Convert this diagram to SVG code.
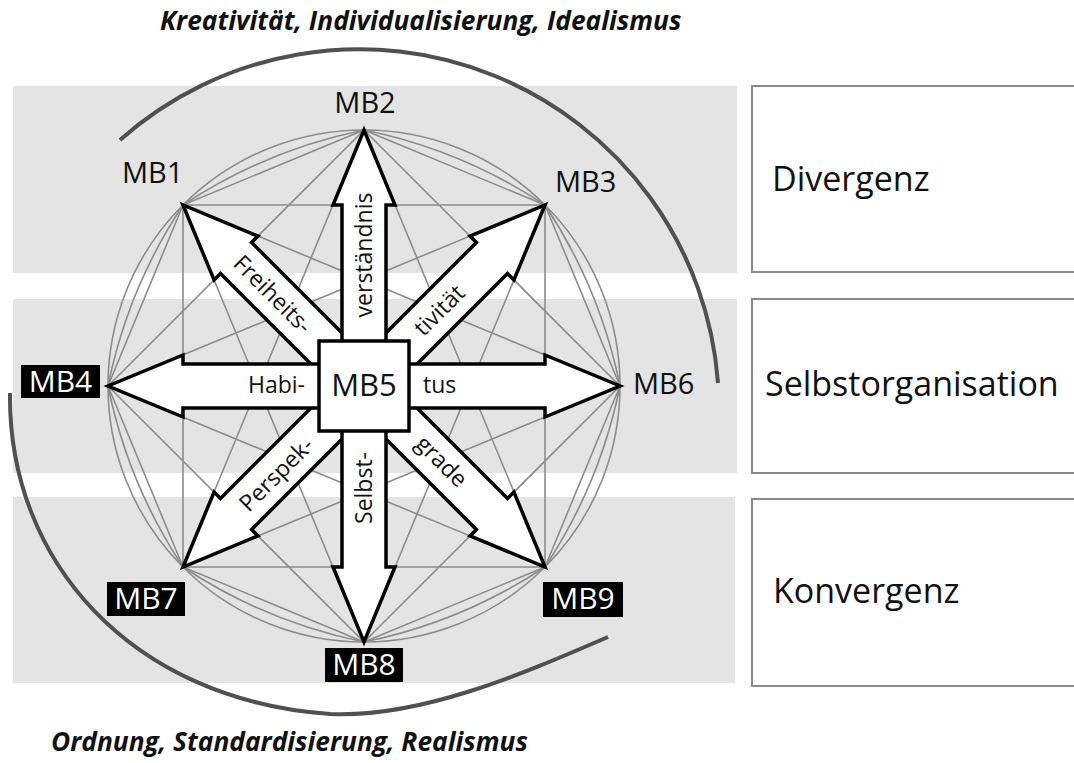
<svg xmlns="http://www.w3.org/2000/svg" xmlns:xlink="http://www.w3.org/1999/xlink" width="1074" height="763" viewBox="0 0 1074 763">
<style>
text{font-family:"Open Sans","Noto Sans","Liberation Sans",sans-serif;fill:#111}
.title{font-size:26.3px;font-weight:bold;font-style:italic}
.band{fill:#e4e4e4}
.side{fill:#fff;stroke:#8a8a8a;stroke-width:2}
.side-t{font-size:34px}
.lbl{font-size:29px}
.blk{fill:#000}
.wt{font-size:30px;fill:#fff;text-anchor:middle}
.grey{fill:none;stroke:#8c8c8c;stroke-width:1.6}
.big{fill:none;stroke:#505050;stroke-width:4;stroke-linecap:butt}
.arr{fill:#fff;stroke:#000;stroke-width:3.5;stroke-linejoin:miter}
.at{font-size:23px;text-anchor:middle}
</style>
<defs>
<polygon id="arrow" class="arr" points="0,-22 181,-22 181,-31 256,0 181,31 181,22 0,22"/>
</defs>
<rect width="1074" height="763" fill="#fff"/>
<g id="bands">
<rect class="band" x="13" y="86" width="724" height="187"/>
<rect class="band" x="13" y="299" width="724" height="174"/>
<rect class="band" x="13" y="497" width="722" height="186"/>
</g>
<g id="side-boxes">
<g id="divergenz"><rect class="side" x="752" y="86" width="340" height="186"/><text class="side-t" x="772" y="191">Divergenz</text></g>
<g id="selbstorganisation"><rect class="side" x="752" y="299" width="340" height="174"/><text class="side-t" x="765" y="396">Selbstorganisation</text></g>
<g id="konvergenz"><rect class="side" x="752" y="499" width="340" height="187"/><text class="side-t" x="773" y="603">Konvergenz</text></g>
</g>
<text class="title" x="160" y="30">Kreativität, Individualisierung, Idealismus</text>
<text class="title" x="51" y="751">Ordnung, Standardisierung, Realismus</text>
<g id="connectors">
<circle class="grey" cx="364" cy="386" r="256"/>
<path class="grey" d="M620,386A512,512 0 0 1 545,567M545,567A512,512 0 0 1 364,642M364,642A512,512 0 0 1 183,567M183,567A512,512 0 0 1 108,386M108,386A512,512 0 0 1 183,205M183,205A512,512 0 0 1 364,130M364,130A512,512 0 0 1 545,205M545,205A512,512 0 0 1 620,386"/>
<path class="grey" d="M620,386L545,567M620,386L364,642M620,386L183,567M620,386L108,386M620,386L183,205M620,386L364,130M620,386L545,205M545,567L364,642M545,567L183,567M545,567L108,386M545,567L183,205M545,567L364,130M545,567L545,205M364,642L183,567M364,642L108,386M364,642L183,205M364,642L364,130M364,642L545,205M183,567L108,386M183,567L183,205M183,567L364,130M183,567L545,205M108,386L183,205M108,386L364,130M108,386L545,205M183,205L364,130M183,205L545,205M364,130L545,205"/>
<path class="big" d="M120,140A360,360 0 0 1 718,383"/>
<path class="big" d="M10,393C8,560 130,700 330,714C420,718 520,675 608,637"/>
<use xlink:href="#arrow" transform="translate(364,386) rotate(45)"/>
<use xlink:href="#arrow" transform="translate(364,386) rotate(135)"/>
<use xlink:href="#arrow" transform="translate(364,386) rotate(225)"/>
<use xlink:href="#arrow" transform="translate(364,386) rotate(315)"/>
<use xlink:href="#arrow" transform="translate(364,386) rotate(0)"/>
<use xlink:href="#arrow" transform="translate(364,386) rotate(180)"/>
<use xlink:href="#arrow" transform="translate(364,386) rotate(90)"/>
<use xlink:href="#arrow" transform="translate(364,386) rotate(270)"/>
<text class="at" transform="translate(365,255) rotate(-90)" y="7">verständnis</text>
<text class="at" transform="translate(365,488) rotate(-90)" y="7">Selbst-</text>
<text class="at" x="305" y="393" style="text-anchor:end">Habi-</text>
<text class="at" x="423" y="393" style="text-anchor:start">tus</text>
<text class="at" transform="translate(272,295) rotate(45)" y="7">Freiheits-</text>
<text class="at" transform="translate(440,311) rotate(-45)" y="7">tivität</text>
<text class="at" transform="translate(277,475) rotate(-45)" y="7">Perspek-</text>
<text class="at" transform="translate(441,462) rotate(45)" y="7">grade</text>
</g>
<g id="MB5"><rect x="319" y="341" width="90" height="90" fill="#fff" stroke="#000" stroke-width="3.5"/><text class="lbl" x="364" y="396" style="font-size:31px" text-anchor="middle">MB5</text></g>
<g id="MB1"><text class="lbl" x="122" y="183">MB1</text></g>
<g id="MB2"><text class="lbl" x="365" y="113" text-anchor="middle">MB2</text></g>
<g id="MB3"><text class="lbl" x="555" y="192">MB3</text></g>
<g id="MB6"><text class="lbl" x="633" y="394">MB6</text></g>
<g id="MB4"><rect class="blk" x="21" y="365" width="79" height="33"/><text class="wt" x="60.5" y="392">MB4</text></g>
<g id="MB7"><rect class="blk" x="107" y="582" width="78" height="34"/><text class="wt" x="146" y="609">MB7</text></g>
<g id="MB8"><rect class="blk" x="325" y="648" width="78" height="34"/><text class="wt" x="364" y="675">MB8</text></g>
<g id="MB9"><rect class="blk" x="543" y="582" width="80" height="35"/><text class="wt" x="583" y="609">MB9</text></g>
</svg>
